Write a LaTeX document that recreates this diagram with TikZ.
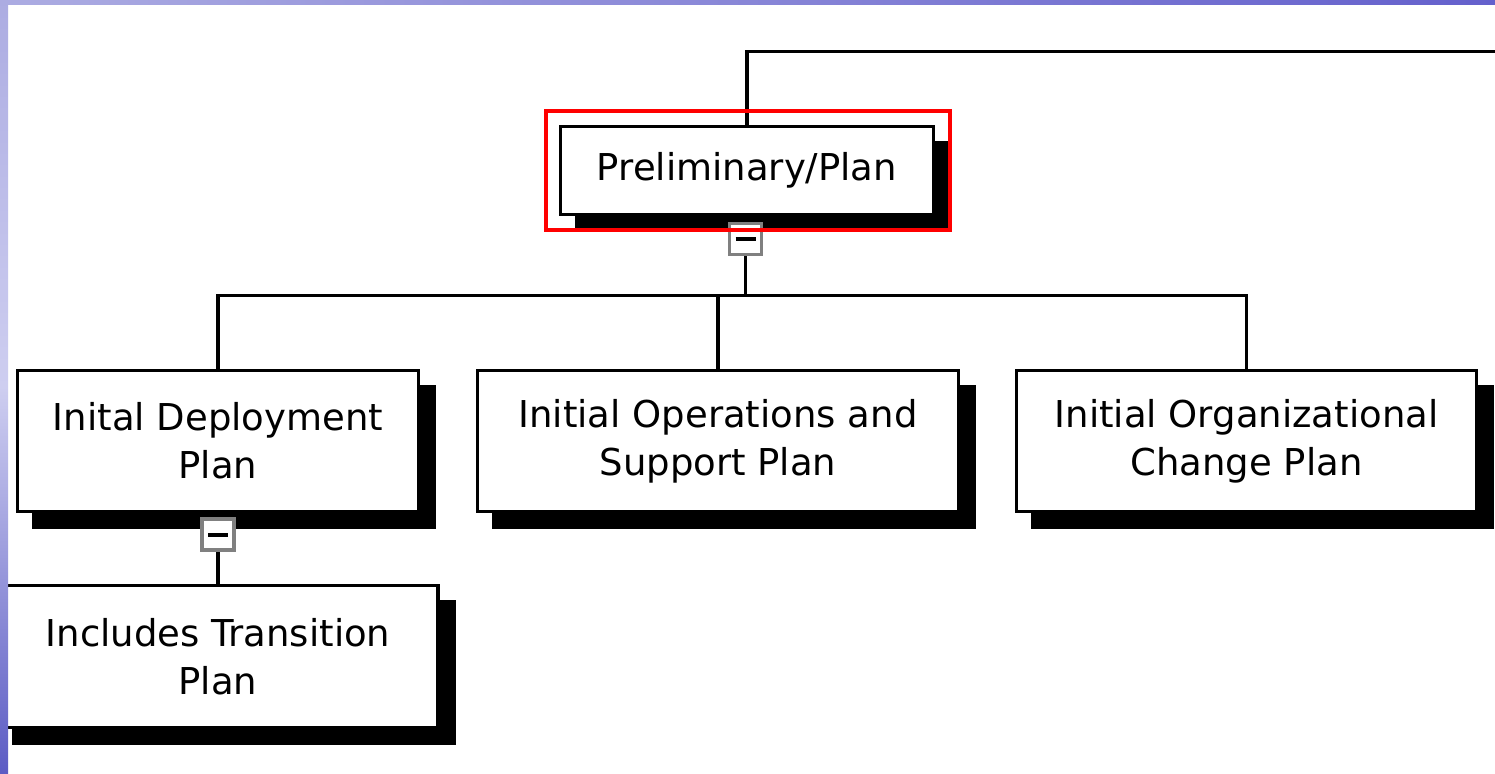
\documentclass[tikz,border=0pt]{standalone}
\usepackage{fontspec}
\setmainfont{DejaVu Sans}
\usetikzlibrary{shadows,backgrounds}
\definecolor{navgray}{RGB}{128,128,128}
\definecolor{stripA}{RGB}{172,172,226}
\definecolor{stripB}{RGB}{206,206,240}
\definecolor{stripC}{RGB}{92,92,196}
\definecolor{stripD}{RGB}{100,96,204}
\tikzset{
  planbox/.style={draw=black, fill=white, line width=3.5pt, inner sep=0pt,
    align=center, font=\fontsize{37}{48}\selectfont,
    general shadow={fill=black, draw=black, line width=3.5pt,
      shadow xshift=16pt, shadow yshift=-16pt}},
  toggle/.style={draw=navgray, fill=white, line width=3.5pt, inner sep=0pt,
    minimum width=32pt, minimum height=31pt},
  link/.style={draw=black, line width=3.5pt},
  selection/.style={draw=red, line width=4pt, inner sep=0pt}
}
\begin{document}
\begin{tikzpicture}[x=1pt, y=-1pt]
  \useasboundingbox (0,0) rectangle (1495,773);

  % plan boxes
  \node[planbox, minimum width=373pt, minimum height=88pt] (root) at (747,170.5) {Preliminary/Plan};
  \node[planbox, minimum width=401pt, minimum height=141pt] (deploy) at (218,441) {Inital Deployment\\Plan};
  \node[planbox, minimum width=481pt, minimum height=141pt] (ops) at (718,441) {Initial Operations and\\Support Plan};
  \node[planbox, minimum width=460pt, minimum height=141pt] (org) at (1246.5,441) {Initial Organizational\\Change Plan};
  \node[planbox, minimum width=440pt, minimum height=142pt] (trans) at (218,656.5) {Includes Transition\\Plan};

  % collapse toggles
  \node[toggle] (tgA) at (745.5,239) {\rule{20pt}{4pt}};
  \node[toggle] (tgB) at (218,534.5) {\rule{20pt}{4pt}};

  % selection frame round the root
  \node[selection, minimum width=403.5pt, minimum height=119pt] (sel) at (747.75,170.5) {};

  \coordinate (topend) at (1495,51.5);
  \coordinate (bus) at (0,295.5);

  \begin{scope}[on background layer]
    \fill[white] (0,0) rectangle (1495,773);
    \draw[link] (root.north) |- (topend);
    \draw[link] (root.south) -- (tgA.north);
    \draw[link] (tgA.south) -- (tgA.south |- bus);
    \draw[link] (deploy.north) |- (org.north |- bus) -- (org.north);
    \draw[link] (ops.north) -- (ops.north |- bus);
    \draw[link] (deploy.south) -- (tgB.north);
    \draw[link] (tgB.south) -- (trans.north);
  \end{scope}

  % frame strips
  \shade[left color=stripA, right color=stripD] (0,0) rectangle (1495,5);
  \shade[top color=stripA, bottom color=stripC, middle color=stripB] (0,0) rectangle (8,773);
\end{tikzpicture}
\end{document}
